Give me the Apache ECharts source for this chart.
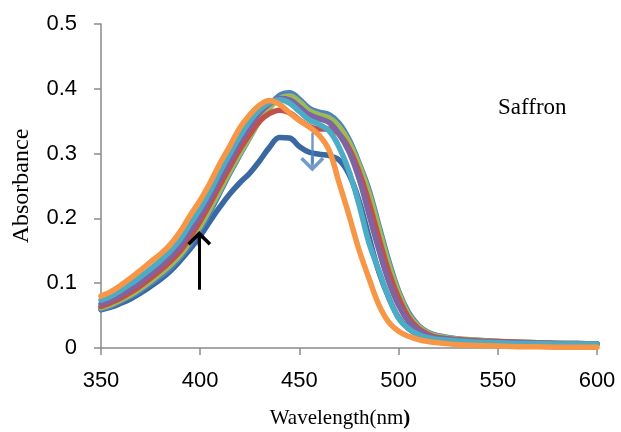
<!DOCTYPE html>
<html>
<head>
<meta charset="utf-8">
<title>Saffron</title>
<script src="https://cdn.jsdelivr.net/npm/echarts@6/dist/echarts.min.js"></script>
<style>
  html, body { margin: 0; padding: 0; background: #fff; }
  #chart { width: 621px; height: 432px; }
</style>
</head>
<body>
<div id="chart"></div>
<script>
// 波长 (nm)
const wavelengths = [350, 355, 360, 365, 370, 375, 380, 385, 390, 395, 400, 405, 410, 415, 420, 425, 430, 435, 440, 445, 450, 455, 460, 465, 470, 475, 480, 485, 490, 495, 500, 505, 510, 515, 520, 530, 540, 550, 560, 570, 580, 590, 600];

// 各条吸收光谱
const darkBlue = [0.059, 0.063, 0.069, 0.076, 0.085, 0.095, 0.106, 0.119, 0.135, 0.153, 0.173, 0.196, 0.218, 0.238, 0.255, 0.270, 0.289, 0.310, 0.325, 0.324, 0.311, 0.302, 0.299, 0.297, 0.290, 0.268, 0.228, 0.172, 0.118, 0.078, 0.047, 0.030, 0.021, 0.016, 0.013, 0.011, 0.009, 0.008, 0.007, 0.007, 0.006, 0.006, 0.006];
const steelBlue = [0.060, 0.065, 0.072, 0.080, 0.089, 0.100, 0.111, 0.124, 0.140, 0.160, 0.183, 0.210, 0.240, 0.270, 0.298, 0.325, 0.352, 0.374, 0.390, 0.394, 0.384, 0.370, 0.364, 0.360, 0.347, 0.322, 0.286, 0.245, 0.190, 0.135, 0.088, 0.055, 0.035, 0.024, 0.019, 0.014, 0.012, 0.010, 0.009, 0.008, 0.007, 0.007, 0.006];
const green = [0.062, 0.067, 0.074, 0.082, 0.092, 0.103, 0.115, 0.128, 0.144, 0.165, 0.188, 0.215, 0.244, 0.273, 0.300, 0.326, 0.350, 0.370, 0.385, 0.389, 0.380, 0.366, 0.360, 0.355, 0.342, 0.318, 0.283, 0.240, 0.185, 0.130, 0.085, 0.052, 0.033, 0.023, 0.018, 0.014, 0.012, 0.010, 0.009, 0.008, 0.007, 0.007, 0.006];
const red = [0.064, 0.070, 0.077, 0.086, 0.096, 0.108, 0.120, 0.134, 0.150, 0.172, 0.196, 0.223, 0.252, 0.280, 0.307, 0.330, 0.350, 0.362, 0.367, 0.363, 0.352, 0.342, 0.338, 0.338, 0.330, 0.308, 0.272, 0.225, 0.170, 0.118, 0.077, 0.047, 0.030, 0.021, 0.016, 0.013, 0.011, 0.010, 0.009, 0.008, 0.007, 0.007, 0.006];
const purple = [0.068, 0.074, 0.082, 0.091, 0.102, 0.114, 0.127, 0.141, 0.158, 0.181, 0.205, 0.232, 0.262, 0.290, 0.318, 0.342, 0.363, 0.377, 0.385, 0.383, 0.372, 0.360, 0.354, 0.348, 0.330, 0.303, 0.262, 0.207, 0.152, 0.103, 0.066, 0.041, 0.027, 0.019, 0.015, 0.012, 0.010, 0.009, 0.008, 0.007, 0.007, 0.006, 0.006];
const aqua = [0.074, 0.080, 0.089, 0.099, 0.110, 0.122, 0.135, 0.150, 0.168, 0.192, 0.215, 0.242, 0.272, 0.300, 0.327, 0.350, 0.368, 0.379, 0.383, 0.378, 0.365, 0.352, 0.345, 0.335, 0.310, 0.273, 0.222, 0.163, 0.120, 0.078, 0.046, 0.030, 0.021, 0.016, 0.013, 0.011, 0.009, 0.008, 0.007, 0.007, 0.006, 0.006, 0.006];
const orange = [0.080, 0.087, 0.097, 0.108, 0.120, 0.133, 0.145, 0.160, 0.180, 0.205, 0.228, 0.255, 0.285, 0.312, 0.340, 0.360, 0.375, 0.382, 0.376, 0.363, 0.351, 0.341, 0.328, 0.305, 0.255, 0.205, 0.152, 0.108, 0.067, 0.040, 0.026, 0.018, 0.013, 0.010, 0.008, 0.005, 0.004, 0.003, 0.002, 0.002, 0.001, 0.001, 0.001];

// 绘制顺序（后画的在上面）
const spectra = [
  { data: darkBlue, color: '#3A68A2' },
  { data: steelBlue, color: '#4F81BD' },
  { data: green, color: '#9BBB59' },
  { data: red, color: '#C0504D' },
  { data: purple, color: '#8064A2' },
  { data: aqua, color: '#4BACC6' },
  { data: orange, color: '#F79646' },
];

// 箭头：[波长, 起点, 终点]
const arrowUp = [399.5, 0.09, 0.169];
const arrowDown = [456.5, 0.332, 0.284];

const xTicks = { min: 350, max: 600, interval: 50 };
const yTicks = { min: 0, max: 0.5, interval: 0.1 };

// 箭头头部（向上的 V 形）
const headPath = 'path://M12,0 L24,12 L21.5,14.5 L13.5,6.5 L13.5,15 L10.5,15 L10.5,6.5 L2.5,14.5 L0,12 Z';

const axisGray = '#8a8a8a';

const lineSeries = spectra.map((s) => ({
  type: 'line',
  data: wavelengths.map((w, i) => [w, s.data[i]]),
  showSymbol: false,
  smooth: 0.4,
  lineStyle: { color: s.color, width: 5.5, cap: 'round', join: 'round' },
  itemStyle: { color: s.color },
}));

const arrowSeries = (arrow, color, width) => ({
  type: 'line',
  data: [],
  z: 5,
  markLine: {
    silent: true,
    animation: false,
    symbol: ['none', headPath],
    symbolSize: [24, 15],
    label: { show: false },
    lineStyle: { color: color, width: width, type: 'solid' },
    data: [[{ coord: [arrow[0], arrow[1]] }, { coord: [arrow[0], arrow[2]] }]],
  },
});

const option = {
  animation: false,
  grid: { left: 101, right: 24, top: 24, bottom: 84, outerBoundsMode: 'none' },
  xAxis: {
    type: 'value',
    min: xTicks.min,
    max: xTicks.max,
    interval: xTicks.interval,
    name: '{a|Wavelength(nm}{b|)}',
    nameLocation: 'middle',
    nameGap: 60,
    nameTextStyle: {
      padding: [0, 18, 0, 0],
      rich: {
        a: { fontFamily: 'Liberation Serif', fontSize: 21, color: '#000' },
        b: { fontFamily: 'Liberation Serif', fontSize: 21, fontWeight: 'bold', color: '#000' },
      },
    },
    axisLine: { show: true, lineStyle: { color: axisGray, width: 1.5 } },
    axisTick: { show: true, length: 7, lineStyle: { color: axisGray, width: 1.5 } },
    axisLabel: { color: '#000', fontFamily: 'Liberation Sans', fontSize: 22, margin: 22 },
    splitLine: { show: false },
  },
  yAxis: {
    type: 'value',
    min: yTicks.min,
    max: yTicks.max,
    interval: yTicks.interval,
    name: 'Absorbance',
    nameLocation: 'middle',
    nameGap: 67,
    nameTextStyle: { fontFamily: 'Liberation Serif', fontSize: 24, color: '#000' },
    axisLine: { show: true, lineStyle: { color: axisGray, width: 1.5 } },
    axisTick: { show: true, length: 7, lineStyle: { color: axisGray, width: 1.5 } },
    axisLabel: { color: '#000', fontFamily: 'Liberation Sans', fontSize: 22, margin: 24 },
    splitLine: { show: false },
  },
  graphic: [
    {
      type: 'text',
      left: 498,
      top: 96,
      style: { text: 'Saffron', font: '23px "Liberation Serif"', fill: '#000' },
    },
  ],
  series: [
    ...lineSeries,
    arrowSeries(arrowUp, '#000', 3),
    arrowSeries(arrowDown, 'rgba(79,129,189,0.8)', 2.5),
  ],
};

const chart = echarts.init(document.getElementById('chart'));
chart.setOption(option);
window.addEventListener('resize', () => {
  chart.resize();
});
</script>
</body>
</html>
